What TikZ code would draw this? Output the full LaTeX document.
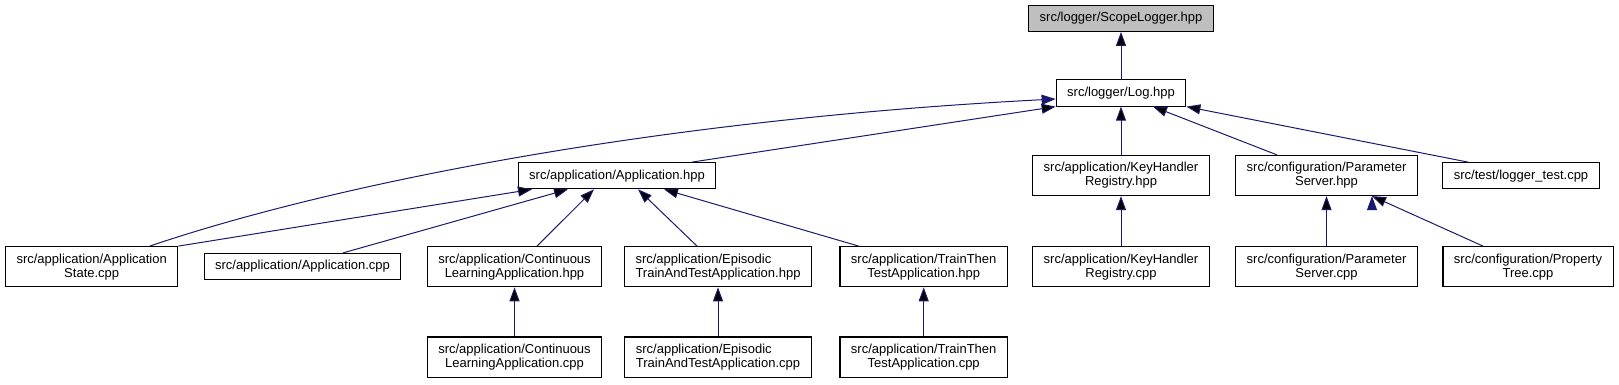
\documentclass[tikz,border=0pt]{standalone}
\usepackage{fontspec}
\setmainfont{Liberation Sans}
\usepackage{xcolor}
\usepackage{tikz}
\usetikzlibrary{arrows.meta}
\definecolor{edgeblue}{HTML}{191970}
\definecolor{rootgray}{HTML}{BFBFBF}

\begin{document}
\begin{tikzpicture}[x=1pt, y=-1pt, >={Triangle[length=14pt, width=10pt]},
    file/.style={draw, line width=1.1pt, align=center, inner xsep=11pt, inner ysep=7pt,
                 minimum height=26pt, font=\fontsize{13}{14}\selectfont},
    root/.style={file, fill=rootgray},
    dep/.style={<-, draw=edgeblue, line width=1pt}]
        \useasboundingbox (0,0) rectangle (1619,384);

        % top levels
        \node[root] (SCOPE) at (1121,18.3) {src/logger/ScopeLogger.hpp};
        \node[file] (LOG) at (1121,93) {src/logger/Log.hpp};

        % second row
        \node[file] (APPHPP) at (617,175.7) {src/application/Application.hpp};
        \node[file] (KEYHPP) at (1121,175.5) {src/application/KeyHandler\\Registry.hpp};
        \node[file] (PARHPP) at (1326.5,175.5) {src/configuration/Parameter\\Server.hpp};
        \node[file] (LOGTEST) at (1521,175.7) {src/test/logger\_test.cpp};

        % third row
        \node[file] (APPSTATE) at (91.7,266.7) {src/application/Application\\State.cpp};
        \node[file] (APPCPP) at (302.5,266.5) {src/application/Application.cpp};
        \node[file] (CONTHPP) at (514.5,266.7) {src/application/Continuous\\LearningApplication.hpp};
        \node[file, align=left] (EPIHPP) at (718,266.7) {src/application/Episodic\\TrainAndTestApplication.hpp};
        \node[file] (TTHPP) at (923.7,266.7) {src/application/TrainThen\\TestApplication.hpp};
        \node[file] (KEYCPP) at (1121,266.7) {src/application/KeyHandler\\Registry.cpp};
        \node[file] (PARCPP) at (1326.5,266.7) {src/configuration/Parameter\\Server.cpp};
        \node[file] (TREECPP) at (1528,266.7) {src/configuration/Property\\Tree.cpp};

        % bottom row
        \node[file] (CONTCPP) at (514.5,357) {src/application/Continuous\\LearningApplication.cpp};
        \node[file, align=left] (EPICPP) at (718,357) {src/application/Episodic\\TrainAndTestApplication.cpp};
        \node[file] (TTCPP) at (923.7,357) {src/application/TrainThen\\TestApplication.cpp};

        \path[dep] (SCOPE) edge (LOG)
              (LOG.south west) edge ([xshift=75pt]APPHPP.north)
              (LOG) edge (KEYHPP)
              ([xshift=32pt]LOG.south) edge ([xshift=-49.5pt]PARHPP.north)
              (LOG.south east) edge ([xshift=-53pt]LOGTEST.north)
              ([xshift=-85pt]APPHPP.south) edge (APPSTATE.north east)
              ([xshift=-49pt]APPHPP.south) edge ([xshift=40.5pt]APPCPP.north)
              ([xshift=-23pt]APPHPP.south) edge ([xshift=22.5pt]CONTHPP.north)
              ([xshift=21pt]APPHPP.south) edge ([xshift=-21pt]EPIHPP.north)
              ([xshift=47pt]APPHPP.south) edge ([xshift=-65pt]TTHPP.north)
              (KEYHPP) edge (KEYCPP)
              (PARHPP) edge (PARCPP)
              ([xshift=45.5pt]PARHPP.south) edge ([xshift=-45pt]TREECPP.north)
              (CONTHPP) edge (CONTCPP)
              (EPIHPP) edge (EPICPP)
              (TTHPP) edge (TTCPP);
        \draw[dep] ([yshift=-6pt]LOG.west) .. controls (650,120) and (330,185) .. ([xshift=58pt]APPSTATE.north);
    \end{tikzpicture}
\end{document}
